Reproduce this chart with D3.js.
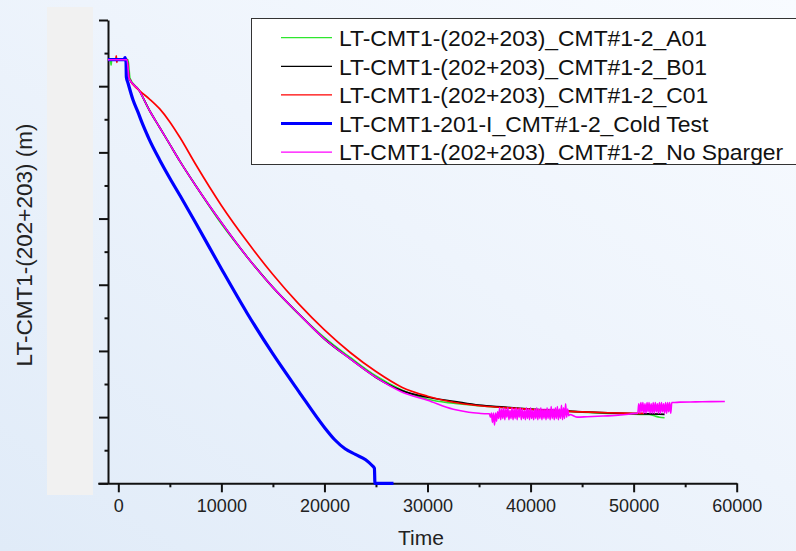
<!DOCTYPE html>
<html>
<head>
<meta charset="utf-8">
<script src="https://cdn.jsdelivr.net/npm/d3@7"></script>
<style>
  html, body { margin: 0; padding: 0; overflow: hidden; background: #eef4fb; }
  svg { display: block; font-family: "Liberation Sans", Arial, Helvetica, sans-serif; }
</style>
</head>
<body>
<svg id="chart" width="796" height="551"></svg>
<script>
// ---- data: CMT1 level (m) against time (s) ----
const seriesNames = [
  "LT-CMT1-(202+203)_CMT#1-2_A01",
  "LT-CMT1-(202+203)_CMT#1-2_B01",
  "LT-CMT1-(202+203)_CMT#1-2_C01",
  "LT-CMT1-201-I_CMT#1-2_Cold Test",
  "LT-CMT1-(202+203)_CMT#1-2_No Sparger"
];

const timeA01 = [-1000, -750, -700, -650, 940, 1130, 2000, 3000, 4000, 5000, 6000, 7500, 10000, 12500, 15000, 17500, 20000, 22500, 25000, 27500, 30000, 32500, 35000, 37500, 40000, 42500, 45000, 47500, 50000, 51500, 52000, 52500, 53000];
const levelA01 = [3.20, 3.20, 3.16, 3.20, 3.20, 3.06, 2.97, 2.82, 2.69, 2.56, 2.43, 2.25, 1.96, 1.71, 1.48, 1.28, 1.10, 0.95, 0.81, 0.705, 0.635, 0.605, 0.586, 0.571, 0.559, 0.548, 0.537, 0.529, 0.522, 0.520, 0.510, 0.499, 0.495];

const timeB01 = [-1000, 850, 1040, 2000, 3000, 4000, 5000, 6000, 7500, 10000, 12500, 15000, 17500, 20000, 22500, 25000, 27500, 30000, 32500, 35000, 37500, 40000, 42500, 45000, 47500, 50000, 52500, 53000];
const levelB01 = [3.20, 3.20, 3.06, 2.97, 2.82, 2.69, 2.56, 2.43, 2.25, 1.97, 1.71, 1.48, 1.28, 1.09, 0.94, 0.80, 0.70, 0.65, 0.62, 0.59, 0.575, 0.56, 0.55, 0.54, 0.532, 0.526, 0.522, 0.521];

const timeC01 = [-1000, -250, -200, -150, -100, 850, 1040, 2000, 3000, 4000, 5000, 6000, 7500, 10000, 12500, 15000, 17500, 20000, 22500, 25000, 27500, 30000, 32500, 35000, 37500, 40000, 42500, 45000, 47500, 50000, 51000];
const levelC01 = [3.20, 3.20, 3.23, 3.18, 3.20, 3.20, 3.06, 2.97, 2.905, 2.83, 2.73, 2.61, 2.41, 2.099, 1.826, 1.577, 1.355, 1.159, 0.988, 0.844, 0.726, 0.658, 0.612, 0.586, 0.571, 0.558, 0.547, 0.540, 0.533, 0.529, 0.528];

const timeCold = [-1000, 550, 650, 750, 780, 940, 1430, 1910, 2300, 2790, 3000, 4000, 5000, 6000, 7500, 10000, 12500, 15000, 17500, 20000, 21000, 22000, 23000, 24000, 24600, 24850, 24900, 26700];
const levelCold = [3.20, 3.20, 3.216, 3.182, 3.069, 3.024, 2.895, 2.804, 2.725, 2.635, 2.598, 2.445, 2.305, 2.172, 1.968, 1.621, 1.285, 0.977, 0.695, 0.422, 0.329, 0.261, 0.218, 0.178, 0.136, 0.113, 0.0, 0.0];

// No Sparger run: smooth drain, then oscillating plateau segments
const timeNoSpargerDrain = [-1000, 850, 1040, 2000, 3000, 4000, 5000, 6000, 7500, 10000, 12500, 15000, 17500, 20000, 22500, 25000, 27500, 30000, 32500, 34000, 35000, 35800];
const levelNoSpargerDrain = [3.20, 3.20, 3.06, 2.97, 2.82, 2.69, 2.56, 2.43, 2.25, 1.97, 1.71, 1.48, 1.28, 1.09, 0.94, 0.80, 0.69, 0.627, 0.559, 0.537, 0.529, 0.525];

const timeNoSpargerOsc1 = [36000, 36100, 36200, 36300, 36400, 36500, 36600, 36700, 36800, 36900, 37000, 37100, 37200, 37300, 37400, 37500, 37600, 37700, 37800, 37900, 38000, 38100, 38200, 38300, 38400, 38500, 38600, 38700, 38800, 38900, 39000, 39100, 39200, 39300, 39400, 39500, 39600, 39700, 39800, 39900, 40000, 40100, 40200, 40300, 40400, 40500, 40600, 40700, 40800, 40900, 41000, 41100, 41200, 41300, 41400, 41500, 41600, 41700, 41800, 41900, 42000, 42100, 42200, 42300, 42400, 42500, 42600, 42700, 42800, 42900, 43000, 43100, 43200, 43300, 43400, 43500, 43600, 43700, 43800];
const levelNoSpargerOsc1 = [0.525, 0.50, 0.53, 0.46, 0.53, 0.44, 0.53, 0.47, 0.54,
  0.49, 0.57, 0.48, 0.56, 0.49, 0.57, 0.48, 0.56, 0.50, 0.57,
  0.48, 0.55, 0.49, 0.57, 0.48, 0.56, 0.49, 0.57, 0.48, 0.56,
  0.50, 0.57, 0.48, 0.56, 0.49, 0.55, 0.48, 0.57, 0.49, 0.56,
  0.48, 0.57, 0.49, 0.55, 0.48, 0.56, 0.49, 0.57, 0.48, 0.56,
  0.49, 0.57, 0.48, 0.56, 0.49, 0.56, 0.48, 0.57, 0.49, 0.56,
  0.48, 0.58, 0.49, 0.56, 0.48, 0.57, 0.49, 0.58, 0.48, 0.56,
  0.49, 0.59, 0.48, 0.57, 0.49, 0.60, 0.50, 0.56, 0.51, 0.52];

const timeNoSpargerMid = [44500, 45500, 47000, 48500, 49500, 50200];
const levelNoSpargerMid = [0.500, 0.503, 0.508, 0.515, 0.522, 0.528];

const timeNoSpargerOsc2 = [50400, 50500, 50600, 50700, 50800, 50900, 51000, 51100, 51200, 51300, 51400, 51500, 51600, 51700, 51800, 51900, 52000, 52100, 52200, 52300, 52400, 52500, 52600, 52700, 52800, 52900, 53000, 53100, 53200, 53300, 53400, 53500, 53600, 53700, 53800];
const levelNoSpargerOsc2 = [0.53, 0.60, 0.53, 0.61, 0.54, 0.61, 0.53, 0.60, 0.53, 0.61,
  0.54, 0.61, 0.53, 0.60, 0.53, 0.61, 0.53, 0.61, 0.54, 0.60,
  0.53, 0.61, 0.53, 0.61, 0.54, 0.60, 0.53, 0.61, 0.53, 0.61,
  0.54, 0.61, 0.53, 0.61, 0.61];

const timeNoSpargerTail = [54500, 56000, 57500, 58850];
const levelNoSpargerTail = [0.613, 0.615, 0.617, 0.618];

const timeTicks = [0, 10000, 20000, 30000, 40000, 50000, 60000];
const timeMinorTicks = [5000, 15000, 25000, 35000, 45000, 55000];
const levelTicks = [0, 0.5, 1, 1.5, 2, 2.5, 3, 3.5];
const levelMinorTicks = [0.25, 0.75, 1.25, 1.75, 2.25, 2.75, 3.25];

const seriesColors = ["#2ee62e", "#000000", "#ff0000", "#0000ff", "#ff00ff"];
const seriesWidths = [1.7, 1.7, 1.7, 3.2, 1.6];
const legendWidths = [1.2, 1.2, 1.2, 3, 1.2];

// ---- assemble series ----
const zip = (ts, vs) => ts.map((t, i) => ({ t, v: vs[i] }));
const series = [
  zip(timeA01, levelA01),
  zip(timeB01, levelB01),
  zip(timeC01, levelC01),
  zip(timeCold, levelCold),
  zip(
    timeNoSpargerDrain.concat(timeNoSpargerOsc1, timeNoSpargerMid, timeNoSpargerOsc2, timeNoSpargerTail),
    levelNoSpargerDrain.concat(levelNoSpargerOsc1, levelNoSpargerMid, levelNoSpargerOsc2, levelNoSpargerTail)
  )
];

// ---- layout ----
const W = 796, H = 551;
const svg = d3.select("#chart");

const defs = svg.append("defs");
const grad = defs.append("linearGradient")
  .attr("id", "bg").attr("x1", 0).attr("y1", 1).attr("x2", 1).attr("y2", 0);
grad.append("stop").attr("offset", 0).attr("stop-color", "#e0ebf8");
grad.append("stop").attr("offset", 0.55).attr("stop-color", "#eef4fc");
grad.append("stop").attr("offset", 1).attr("stop-color", "#f8fbff");

svg.append("rect").attr("width", W).attr("height", H).attr("fill", "url(#bg)");

// grey panel where the level tick labels sit
svg.append("rect")
  .attr("x", 47).attr("y", 7).attr("width", 46).attr("height", 488)
  .attr("fill", "#f1f1f1");

const x = d3.scaleLinear().domain([-2000, 60000]).range([97.7, 736.7]);
const y = d3.scaleLinear().domain([0, 3.5]).range([483.3, 20]);

// ---- axes ----
const axisColor = "#111";

const xAxis = svg.append("g")
  .attr("transform", `translate(0,${y(0)})`)
  .call(d3.axisBottom(x).tickValues(timeTicks).tickSize(9).tickSizeOuter(0)
    .tickPadding(7).tickFormat(d3.format("d")));
svg.append("g")
  .attr("transform", `translate(0,${y(0)})`)
  .call(d3.axisBottom(x).tickValues(timeMinorTicks).tickSize(4).tickSizeOuter(0).tickFormat(""))
  .call(g => g.select(".domain").remove());

svg.append("g")
  .attr("transform", `translate(${x(-1000)},0)`)
  .call(d3.axisLeft(y).tickValues(levelTicks).tickSize(9).tickSizeOuter(0).tickFormat(""));
svg.append("g")
  .attr("transform", `translate(${x(-1000)},0)`)
  .call(d3.axisLeft(y).tickValues(levelMinorTicks).tickSize(3.5).tickSizeOuter(0).tickFormat(""))
  .call(g => g.select(".domain").remove());

svg.selectAll(".domain, .tick line")
  .attr("stroke", axisColor).attr("stroke-width", 2);
xAxis.selectAll(".tick text")
  .attr("fill", "#222").style("font-size", "18px");

// axis titles
svg.append("text")
  .attr("x", 421).attr("y", 545)
  .attr("text-anchor", "middle")
  .attr("fill", "#222").style("font-size", "21px")
  .text("Time");
svg.append("text")
  .attr("transform", "translate(32,245) rotate(-90)")
  .attr("text-anchor", "middle")
  .attr("fill", "#222").style("font-size", "22.5px")
  .text("LT-CMT1-(202+203) (m)");

// ---- lines ----
const line = d3.line()
  .x(d => x(d.t))
  .y(d => y(d.v))
  .curve(d3.curveMonotoneX);

svg.append("g").selectAll("path")
  .data(series)
  .join("path")
  .attr("fill", "none")
  .attr("stroke", (d, i) => seriesColors[i])
  .attr("stroke-width", (d, i) => seriesWidths[i])
  .attr("stroke-linejoin", "round")
  .attr("d", line);

// ---- legend ----
const legend = svg.append("g");
legend.append("rect")
  .attr("x", 251.5).attr("y", 18.5).attr("width", 560).attr("height", 146)
  .attr("fill", "#ffffff").attr("stroke", "#333").attr("stroke-width", 1);

const rowY = i => 37.7 + i * 28.6;
const rows = legend.selectAll("g.row")
  .data(seriesNames)
  .join("g").attr("class", "row");
rows.append("line")
  .attr("x1", 281).attr("x2", 332)
  .attr("y1", (d, i) => rowY(i)).attr("y2", (d, i) => rowY(i))
  .attr("stroke", (d, i) => seriesColors[i])
  .attr("stroke-width", (d, i) => legendWidths[i]);
rows.append("text")
  .attr("x", 339).attr("y", (d, i) => rowY(i))
  .attr("dy", "0.36em")
  .attr("fill", "#111").style("font-size", "22.9px")
  .text(d => d);
</script>
</body>
</html>
